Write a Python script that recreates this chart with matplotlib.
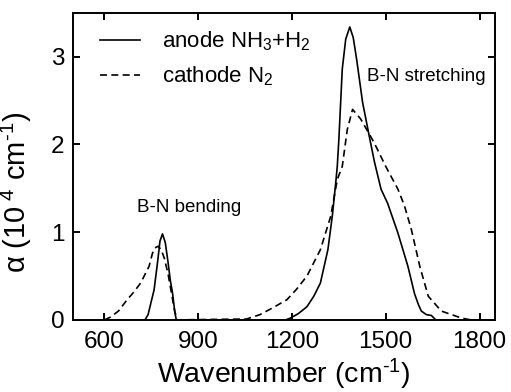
import numpy as np
import matplotlib
matplotlib.use("Agg")
import matplotlib.pyplot as plt

plt.rcParams['font.family'] = ['Liberation Sans', 'DejaVu Sans']
plt.rcParams['mathtext.fontset'] = 'custom'
plt.rcParams['mathtext.rm'] = 'Liberation Sans'
plt.rcParams['mathtext.it'] = 'Liberation Sans:italic'
plt.rcParams['mathtext.default'] = 'regular'

# anode NH3+H2 (solid)
anode_wn = [600, 730, 740, 748, 759, 770, 778, 786, 795, 804, 811, 818, 825, 830,
            1180, 1195, 1220, 1248, 1270, 1291, 1315, 1329, 1340, 1345, 1350, 1361,
            1372, 1385, 1396, 1407, 1426, 1447, 1464, 1485, 1506, 1539, 1571, 1592,
            1605, 1614, 1630, 1646, 1660, 1850]
anode_a = [0, 0, 0.06, 0.18, 0.34, 0.65, 0.9, 0.98, 0.88, 0.65, 0.45, 0.31, 0.1, 0,
           0, 0.02, 0.07, 0.15, 0.27, 0.42, 0.8, 1.18, 1.56, 1.75, 2.05, 2.86,
           3.2, 3.34, 3.22, 2.97, 2.48, 2.1, 1.8, 1.49, 1.33, 0.99, 0.61, 0.3,
           0.17, 0.1, 0.06, 0.05, 0, 0]

# cathode N2 (dashed)
cathode_wn = [600, 619, 645, 673, 695, 716, 743, 754, 762, 772, 782, 792, 804, 815,
              825, 833, 1055, 1098, 1140, 1184, 1215, 1248, 1291, 1324, 1345, 1361,
              1377, 1394, 1420, 1463, 1500, 1539, 1560, 1582, 1609, 1636, 1678, 1743,
              1772, 1850]
cathode_a = [0, 0.03, 0.1, 0.23, 0.32, 0.42, 0.61, 0.76, 0.82, 0.84, 0.8, 0.7, 0.52, 0.3,
             0.1, 0, 0.01, 0.06, 0.14, 0.23, 0.35, 0.5, 0.8, 1.18, 1.6, 1.75,
             2.17, 2.4, 2.29, 2.02, 1.75, 1.49, 1.3, 1.03, 0.61, 0.27, 0.1, 0.02,
             0, 0]

xticks = [600, 900, 1200, 1500, 1800]
yticks = [0, 1, 2, 3]

fig = plt.figure(figsize=(5.11, 3.92), dpi=100)
ax = fig.add_axes([0.143, 0.184, 0.826, 0.783])

ax.plot(anode_wn, anode_a, color='black', lw=1.2, label='anode NH$_3$+H$_2$')
ax.plot(cathode_wn, cathode_a, color='black', lw=1.2, linestyle=(0, (4.2, 2.6)),
        label='cathode N$_2$')

ax.set_xlim(500, 1850)
ax.set_ylim(0, 3.5)
ax.set_xticks(xticks)
ax.set_yticks(yticks)
ax.tick_params(direction='in', length=5, width=1.4, labelsize=17.5,
               top=True, right=True)
ax.tick_params(axis='x', pad=8)
ax.tick_params(axis='y', pad=6)
for sp in ax.spines.values():
    sp.set_linewidth(1.4)

ax.set_xlabel('Wavenumber (cm$^{\u2010 1}$)', fontsize=20.5)
ax.xaxis.set_label_coords(0.5, -0.12)
ax.set_ylabel('\u03b1 (10$^{\\ 4}$ cm$^{\u2010 1}$)', fontsize=21)
ax.yaxis.set_label_coords(-0.092, 0.415)

ax.text(704, 1.28, 'B-N bending', fontsize=13.5, ha='left', va='center')
ax.text(1440, 2.77, 'B-N stretching', fontsize=13.5, ha='left', va='center')

ax.legend(loc='upper left', frameon=False, fontsize=16, handlelength=1.8,
          handletextpad=0.98, labelspacing=0.5, borderpad=0, borderaxespad=0,
          bbox_to_anchor=(0.064, 0.945))

fig.savefig('out.png', dpi=100)
